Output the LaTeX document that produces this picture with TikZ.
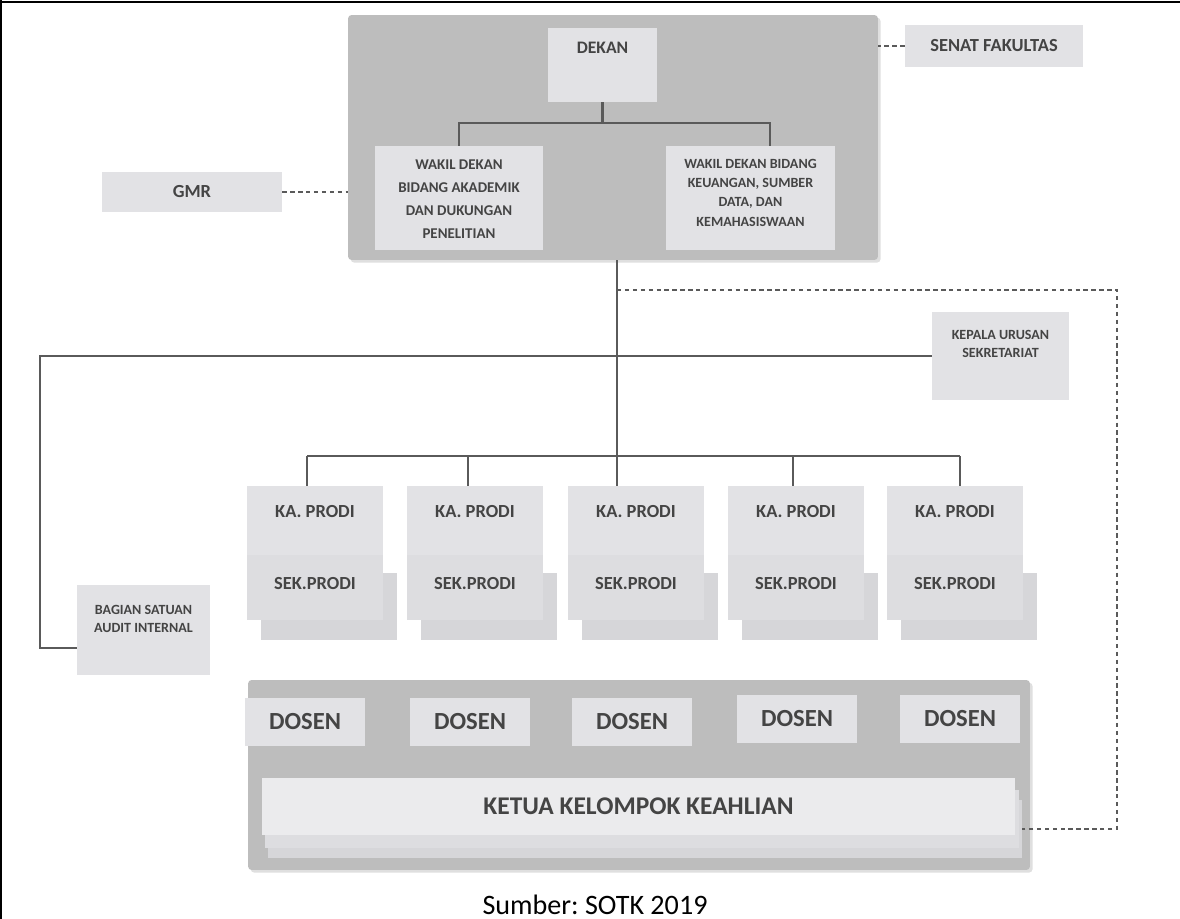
\documentclass[tikz,border=0pt]{standalone}
\usepackage{fontspec}
\setmainfont{Carlito}
\usepackage{tikz}
\usetikzlibrary{positioning, calc, shadows}
\frenchspacing
\definecolor{panel-gray}{HTML}{BDBDBD}
\definecolor{box-gray}{HTML}{E2E2E5}
\definecolor{sek-gray}{HTML}{DDDDE0}
\definecolor{back-gray}{HTML}{D6D6D9}
\definecolor{txt-gray}{HTML}{444444}
\definecolor{line-gray}{HTML}{5A5A5A}
\newcommand{\prodi}[2]{%  \prodi{index}{left x}
  \node[box, fill=back-gray, minimum width=2.72cm, minimum height=1.34cm] (sb#1) at (#2+82,606.5) {};
  \node[box, minimum width=2.72cm, minimum height=1.38cm] (ka#1) at (#2+68,520.5) {};
  \node[box, fill=sek-gray, minimum width=2.72cm, minimum height=1.3cm] (sek#1) at (#2+68,587.5) {};
  \node[lbl={10.5}{12}] (ka#1-t) at (#2+68,512) {KA. PRODI};
  \node[lbl={10.5}{12}] (sek#1-t) at (#2+68,584) {SEK.PRODI};}

\begin{document}
\begin{tikzpicture}[x=0.02cm, y=-0.02cm,
    panel/.style={fill=panel-gray, rounded corners=2pt,
      drop shadow={shadow xshift=1.5pt, shadow yshift=-1.5pt, opacity=0.25}},
    box/.style={fill=box-gray, inner sep=0pt},
    lbl/.style 2 args={font=\fontsize{#1}{#2}\selectfont\bfseries, text=txt-gray,
      align=center, inner sep=0pt},
    link/.style={draw=line-gray, line width=1.5pt},
    dlink/.style={draw=line-gray, line width=1.2pt, dash pattern=on 2.5pt off 2pt}]
  \useasboundingbox (0,0) rectangle (1180,919);
  % ── page frame ──
  \draw[black, line width=1.2pt] (0,2) -- (1180,2);
  \draw[black, line width=1.2pt] (1,0) -- (1,919);

  % ── dekanat panel ──
  \node[panel, minimum width=10.6cm, minimum height=4.9cm] (dekanat) at (613,137.5) {};
  \node[box, minimum width=2.18cm, minimum height=1.48cm] (dekan) at (602.5,65) {};
  \node[lbl={10}{12}] (dekan-t) at (602.5,48) {DEKAN};
  \node[box, minimum width=3.36cm, minimum height=2.08cm] (wd1) at (459,198) {};
  \node[lbl={8.5}{13}] (wd1-t) at (459,199)
        {WAKIL DEKAN\\BIDANG AKADEMIK\\DAN DUKUNGAN\\PENELITIAN};
  \node[box, minimum width=3.38cm, minimum height=2.08cm] (wd2) at (750.5,198) {};
  \node[lbl={8}{11}] (wd2-t) at (750.5,192.5)
        {WAKIL DEKAN BIDANG\\KEUANGAN, SUMBER\\DATA, DAN\\KEMAHASISWAAN};
  \coordinate (wbus) at (602.5,123);
  \draw[link] (dekan.south) -- (wbus);
  \draw[link] (wd1.north) |- (wbus);
  \draw[link] ([xshift=0.39cm]wd2.north) |- (wbus);

  % ── side units ──
  \node[box, lbl={10.5}{12}, minimum width=3.6cm, minimum height=0.8cm] (gmr) at (192,192) {GMR};
  \node[box, lbl={10.5}{12}, minimum width=3.56cm, minimum height=0.84cm] (senat) at (994,46)
        {SENAT FAKULTAS};
  \draw[dlink] (gmr.east) -- (gmr.east -| dekanat.west);
  \draw[dlink] (senat.west) -- (senat.west -| dekanat.east);

  \node[box, minimum width=2.74cm, minimum height=1.76cm] (kepala) at (1000.5,356) {};
  \node[lbl={8}{10}] (kepala-t) at (1000.5,344) {KEPALA URUSAN\\SEKRETARIAT};
  \node[box, minimum width=2.66cm, minimum height=1.8cm] (bagian) at (143.5,630) {};
  \node[lbl={8}{10}] (bagian-t) at (143.5,619) {BAGIAN SATUAN\\AUDIT INTERNAL};
  \coordinate (lbot) at (40,648);
  \draw[link] (kepala.west) -- (kepala.west -| lbot) -- (lbot) -- (lbot -| bagian.west);

  % ── program studi ──
  \prodi{1}{247}\prodi{2}{407}\prodi{3}{568}\prodi{4}{728}\prodi{5}{887}
  \coordinate (d1) at (307,456);
  \coordinate (d2) at (468,456);
  \coordinate (d3) at (617,456);
  \coordinate (d4) at (793,456);
  \coordinate (d5) at (960,456);
  \draw[link] (d3 |- dekanat.south) -- (d3);
  \draw[link] (d1) -- (d5);
  \draw[link] (d1) -- (d1 |- ka1.north);
  \draw[link] (d2) -- (d2 |- ka2.north);
  \draw[link] (d3) -- (d3 |- ka3.north);
  \draw[link] (d4) -- (d4 |- ka4.north);
  \draw[link] (d5) -- (d5 |- ka5.north);

  % ── dosen & kelompok keahlian ──
  \node[panel, minimum width=15.64cm, minimum height=3.8cm] (kkpanel) at (639,775) {};
  \node[box, lbl={14}{16}, minimum width=2.4cm, minimum height=0.96cm] (dosen1) at (305,722) {DOSEN};
  \node[box, lbl={14}{16}, minimum width=2.4cm, minimum height=0.96cm] (dosen2) at (470,722) {DOSEN};
  \node[box, lbl={14}{16}, minimum width=2.4cm, minimum height=0.96cm] (dosen3) at (632,722) {DOSEN};
  \node[box, lbl={14}{16}, minimum width=2.4cm, minimum height=0.96cm] (dosen4) at (797,719) {DOSEN};
  \node[box, lbl={14}{16}, minimum width=2.4cm, minimum height=0.96cm] (dosen5) at (960,719) {DOSEN};
  \node[box, fill=back-gray, minimum width=15.08cm, minimum height=1.16cm] (kk2) at (645,829) {};
  \node[box, fill=sek-gray, minimum width=15.08cm, minimum height=1.16cm] (kk1) at (642,819) {};
  \node[box, fill=box-gray!70!white, lbl={14.5}{17}, minimum width=15.06cm, minimum height=1.14cm]
        (kk) at (638.5,806.5) {KETUA KELOMPOK KEAHLIAN};
  \coordinate (dsA) at (617,290);
  \coordinate (dsB) at (1117,290);
  \draw[dlink] (dsA) -- (dsB) |- (kk2.east);

  \node[font=\fontsize{16}{19}\selectfont] (sumber) at (595,905) {Sumber: SOTK 2019};
\end{tikzpicture}
\end{document}
